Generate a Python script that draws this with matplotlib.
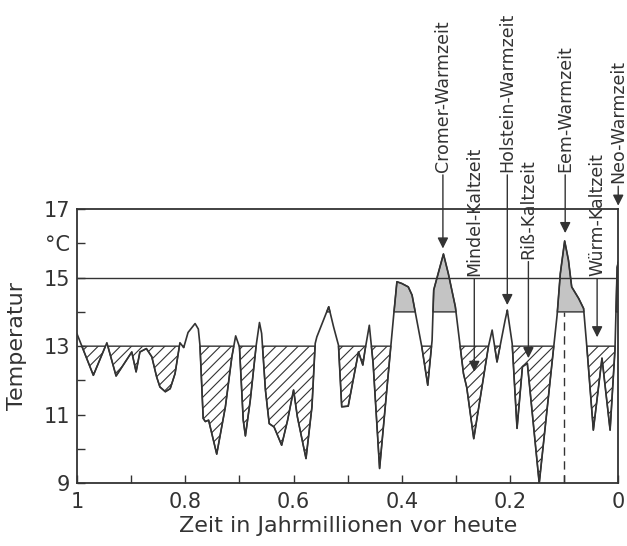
import numpy as np
import matplotlib
matplotlib.use("Agg")
import matplotlib.pyplot as plt

# Zeit (Mio. Jahre vor heute) und Temperatur (°C)
zeit = [1.000, 0.970, 0.945, 0.928, 0.899, 0.891, 0.884, 0.872, 0.862, 0.853,
        0.847, 0.837, 0.828, 0.819, 0.810, 0.803, 0.795, 0.782, 0.776, 0.773,
        0.767, 0.763, 0.757, 0.742, 0.726, 0.714, 0.707, 0.700, 0.693, 0.689,
        0.680, 0.669, 0.663, 0.659, 0.652, 0.645, 0.636, 0.622, 0.611, 0.600,
        0.593, 0.577, 0.566, 0.560, 0.557, 0.535, 0.526, 0.517, 0.511, 0.499,
        0.480, 0.472, 0.468, 0.460, 0.453, 0.441, 0.429, 0.415, 0.409, 0.400,
        0.394, 0.388, 0.381, 0.363, 0.352, 0.344, 0.341, 0.323, 0.314, 0.301,
        0.286, 0.280, 0.267, 0.240, 0.233, 0.224, 0.209, 0.205, 0.196, 0.187,
        0.177, 0.168, 0.146, 0.113, 0.107, 0.099, 0.092, 0.086, 0.073, 0.064,
        0.058, 0.046, 0.030, 0.015, 0.006, 0.002, 0.000]
temp = [13.35, 12.15, 13.10, 12.13, 12.83, 12.25, 12.83, 12.93, 12.69, 12.10,
        11.81, 11.67, 11.76, 12.20, 13.10, 12.96, 13.40, 13.66, 13.50, 13.03,
        10.89, 10.80, 10.84, 9.85, 11.23, 12.69, 13.30, 12.98, 10.84, 10.38,
        11.42, 13.03, 13.69, 13.37, 11.72, 10.74, 10.64, 10.11, 10.84, 11.72,
        10.94, 9.72, 11.23, 13.08, 13.27, 14.15, 13.56, 13.03, 11.23, 11.25,
        12.83, 12.45, 12.88, 13.61, 12.50, 9.43, 11.50, 13.90, 14.88, 14.83,
        14.78, 14.73, 14.49, 12.98, 11.86, 13.17, 14.64, 15.69, 15.12, 14.15,
        12.20, 11.80, 10.30, 12.98, 13.47, 12.54, 13.76, 14.05, 13.08, 10.60,
        12.40, 12.50, 9.00, 13.90, 15.12, 16.07, 15.51, 14.73, 14.39, 14.10,
        12.98, 10.55, 12.65, 10.55, 12.90, 15.30, 15.45]

x_ticks = [1.0, 0.9, 0.8, 0.7, 0.6, 0.5, 0.4, 0.3, 0.2, 0.1, 0.0]
x_labels = ["1", "", "0.8", "", "0.6", "", "0.4", "", "0.2", "", "0"]
y_ticks = [9, 10, 11, 12, 13, 14, 15, 16, 17]
y_labels = ["9", "", "11", "", "13", "", "15", "°C", "17"]

perioden = ["Cromer-Warmzeit", "Mindel-Kaltzeit", "Holstein-Warmzeit",
            "Riß-Kaltzeit", "Eem-Warmzeit", "Würm-Kaltzeit", "Neo-Warmzeit"]
perioden_zeit = [0.324, 0.266, 0.205, 0.166, 0.098, 0.039, 0.0]
# Pfeilspitze und Textanfang (Layout)
pfeil_y = [15.85, 12.25, 14.2, 12.65, 16.3, 13.26, 17.1]
text_y = [18.08, 15.05, 18.08, 15.55, 18.08, 15.05, 17.75]

ink = "#333333"
plt.rcParams["font.family"] = ["DejaVu Sans"]
plt.rcParams["hatch.linewidth"] = 0.8
plt.rcParams["hatch.color"] = ink

x = np.array(zeit)
y = np.array(temp)

fig = plt.figure(figsize=(6.27, 5.46), dpi=100)
ax = fig.add_axes([0.123, 0.115, 0.863, 0.502])

ax.fill_between(x, y, 13, where=y < 13, interpolate=True, facecolor="none",
                edgecolor=ink, hatch="///", linewidth=1.0)
ax.fill_between(x, y, 14, where=y > 14, interpolate=True, facecolor="#c4c4c4",
                edgecolor=ink, linewidth=1.0)
ax.plot(x, y, color=ink, lw=1.2)
ax.axhline(15, color=ink, lw=1.0)
ax.plot([0.1, 0.1], [9, 14], color=ink, lw=1.0, ls=(0, (6, 4)))

for name, t, py, ty in zip(perioden, perioden_zeit, pfeil_y, text_y):
    ax.annotate(name, xy=(t, py), xytext=(t, ty), rotation=90,
                ha="center", va="bottom", fontsize=12.5, color=ink,
                annotation_clip=False,
                arrowprops=dict(arrowstyle="-|>", color=ink, lw=1.0,
                                mutation_scale=16, shrinkA=0, shrinkB=0))

ax.set_xlim(1, 0)
ax.set_ylim(9, 17)
ax.set_xticks(x_ticks)
ax.set_xticklabels(x_labels)
ax.set_yticks(y_ticks)
ax.set_yticklabels(y_labels)
ax.tick_params(direction="in", length=6, width=1.0, colors=ink,
               labelsize=15)
ax.tick_params(axis="x", pad=6)
ax.tick_params(axis="y", pad=5)
for s in ax.spines.values():
    s.set_color(ink)
    s.set_linewidth(1.3)

ax.set_xlabel("Zeit in Jahrmillionen vor heute", fontsize=16, color=ink,
              labelpad=3)
ax.set_ylabel("Temperatur", fontsize=16, color=ink, labelpad=12)

fig.savefig("out.png", dpi=100)
